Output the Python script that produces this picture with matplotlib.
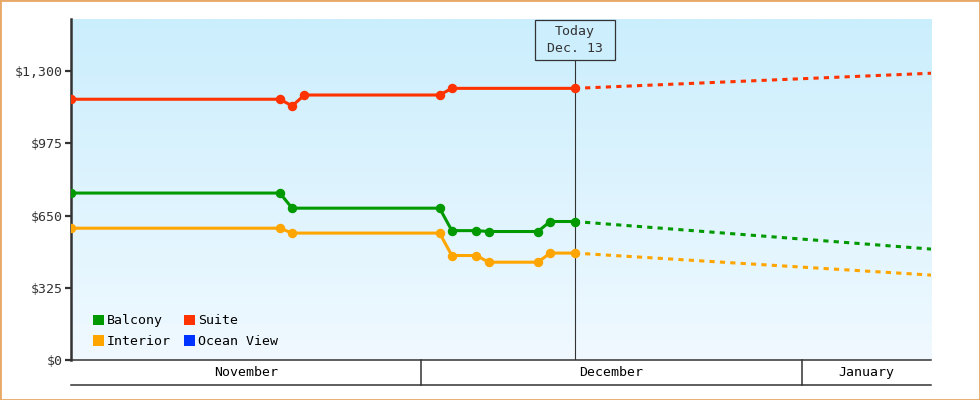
import pandas as pd
import numpy as np
import matplotlib.pyplot as plt
import matplotlib.transforms as mtransforms
from matplotlib.patches import Rectangle, Patch
from matplotlib.colors import LinearSegmentedColormap

plt.rcParams["font.family"] = ["DejaVu Sans Mono"]
plt.rcParams["font.size"] = 9.5

# price history, one point per price change
suite_dates = ["2023-11-02", "2023-11-19", "2023-11-20", "2023-11-21",
               "2023-12-02", "2023-12-03", "2023-12-13"]
suite_prices = [1173, 1173, 1143, 1192, 1192, 1222, 1222]

cabin_dates = ["2023-11-02", "2023-11-19", "2023-11-20", "2023-12-02", "2023-12-03",
               "2023-12-05", "2023-12-06", "2023-12-10", "2023-12-11", "2023-12-13"]
balcony_prices = [751, 751, 683, 683, 582, 582, 578, 578, 623, 623]
interior_prices = [593, 593, 571, 571, 470, 470, 440, 440, 481, 481]

# forecast until the end of the range
today = "2023-12-13"
forecast_end = "2024-01-11"
suite_forecast = 1290
balcony_forecast = 499
interior_forecast = 382

months = ["November", "December", "January"]
month_starts = ["2023-11-01", "2023-12-01", "2024-01-01"]

y_ticks = [0, 325, 650, 975, 1300]
y_labels = ["$0", "$325", "$650", "$975", "$1,300"]

colors = {"Balcony": "#009900", "Interior": "#ffa500", "Suite": "#ff3300", "Ocean View": "#0033ff"}
dark = "#333333"

half_day = pd.Timedelta(hours=12)
to_x = lambda d: pd.to_datetime(d) + half_day
x_start = to_x("2023-11-02")
x_end = to_x(forecast_end)
t_today = to_x(today)

fig = plt.figure(figsize=(9.8, 4), dpi=100)
ax = fig.add_axes([71 / 980, 40 / 400, 860 / 980, 341 / 400])

# gradient background
cmap = LinearSegmentedColormap.from_list("bg", ["#f0f9ff", "#cbeefd"])
ax.imshow(np.linspace(0, 1, 256).reshape(-1, 1), cmap=cmap, origin="lower",
          extent=[0, 1, 0, 1], transform=ax.transAxes, aspect="auto", zorder=0)

series = [("Suite", suite_dates, suite_prices, suite_forecast),
          ("Balcony", cabin_dates, balcony_prices, balcony_forecast),
          ("Interior", cabin_dates, interior_prices, interior_forecast)]
for name, dates, prices, fc in series:
    ax.plot(to_x(dates), prices, color=colors[name], lw=2.2, marker="o", ms=5.8,
            zorder=3)
    ax.plot([t_today, x_end], [prices[-1], fc], color=colors[name], lw=2.2,
            linestyle=(0, (1.7, 1.7)), zorder=3)

ax.set_xlim(x_start, x_end)
ax.set_ylim(0, 1534)

# today marker
px_day = 860 / (x_end - x_start).days
px_dollar = 341 / 1534
box_w = 80 / px_day
box_h = 40 / px_dollar
box_bottom = 1534 - 1 / px_dollar - box_h
ax.plot([t_today, t_today], [0, box_bottom], color=dark, lw=0.8, zorder=2)
ax.add_patch(Rectangle((t_today - pd.Timedelta(days=box_w / 2), box_bottom),
                       pd.Timedelta(days=box_w), box_h, facecolor="#cdeefd",
                       edgecolor=dark, lw=0.9, zorder=4))
ax.text(t_today, box_bottom + box_h / 2, "Today\nDec. 13", ha="center", va="center",
        color=dark, linespacing=1.35, zorder=5)

# axes styling
ax.set_yticks(y_ticks)
ax.set_yticklabels(y_labels, color=dark)
ax.set_xticks([])
ax.tick_params(axis="y", length=4, width=1.6, color=dark, pad=2)
for s in ["top", "right"]:
    ax.spines[s].set_visible(False)
ax.spines["left"].set_color(dark)
ax.spines["left"].set_linewidth(1.8)
ax.spines["bottom"].set_color(dark)
ax.spines["bottom"].set_linewidth(1.1)

# month band under the axis
trans = mtransforms.blended_transform_factory(ax.transData, ax.transAxes)
band_y = -25 / 341
ax.plot([x_start, x_end], [band_y, band_y], color=dark, lw=1.1, transform=trans, clip_on=False)
edges = [x_start] + [pd.to_datetime(m) for m in month_starts[1:]] + [x_end]
for m in month_starts[1:]:
    ax.plot([pd.to_datetime(m)] * 2, [0, band_y], color=dark, lw=1.1, transform=trans,
            clip_on=False)
for i, name in enumerate(months):
    mid = edges[i] + (edges[i + 1] - edges[i]) / 2
    ax.text(mid, band_y / 2, name, ha="center", va="center", color="black",
            transform=trans)

# legend
order = ["Balcony", "Interior", "Suite", "Ocean View"]
handles = [Patch(facecolor=colors[n], edgecolor="none") for n in order]
ax.legend(handles, order, ncol=2, loc="lower left", bbox_to_anchor=(0.012, 0.0),
          frameon=False, handlelength=0.8, handleheight=0.8, handletextpad=0.25,
          columnspacing=1.0, labelspacing=0.6, borderaxespad=0.5)

# outer border
fig.patches.append(Rectangle((0, 0), 1, 1, transform=fig.transFigure, fill=False,
                             edgecolor="#e8a866", lw=2))

fig.savefig("out.png", dpi=100)
